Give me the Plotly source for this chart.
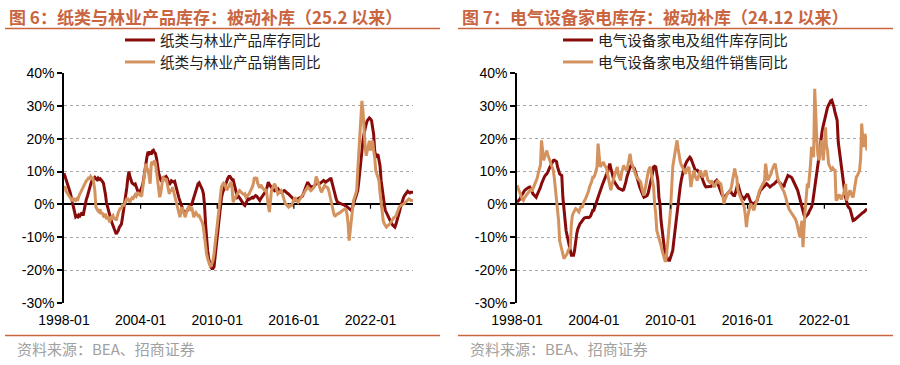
import pandas as pd
import plotly.graph_objects as go

# ---------------- data (monthly YoY %, 1998-01 .. 2025-05) ----------------
paper_inventory = [
    9.5, 8.5, 7.5, 6.5, 5.5, 4.8, 3.5, 2.0, 0.5, -1.5, -3.0, -3.8,
    -3.5, -3.8, -3.2, -3.5, -3.0, -2.5, -3.4, -1.5, 0.0, 1.5, 2.5, 4.0,
    5.0, 6.0, 7.0, 7.5, 8.0, 8.2, 7.8, 7.5, 8.0, 7.6, 7.8, 7.5,
    7.0, 6.5, 5.0, 3.0, 0.5, -1.0, -2.5, -3.5, -4.5, -5.5, -6.5, -7.5,
    -8.5, -9.0, -8.5, -8.0, -7.0, -6.5, -6.0, -4.0, -2.0, 0.5, 2.5, 5.0,
    8.0, 10.0, 8.5, 7.0, 6.5, 6.3, 6.0, 6.2, 5.0, 4.0, 3.5, 3.5,
    4.5, 5.0, 6.0, 8.0, 10.5, 12.5, 14.5, 16.0, 15.5, 16.0, 15.2, 16.3,
    16.5, 15.8, 15.5, 14.0, 11.5, 9.5, 8.5, 7.5, 7.8, 8.0, 8.3, 8.2,
    8.5, 8.0, 7.0, 6.0, 6.5, 7.2, 7.0, 6.8, 7.0, 5.5, 4.5, 3.0,
    2.0, 1.0, 0.0, -1.3, -1.8, -2.2, -2.5, -2.3, -1.8, -1.0, -0.5, 0.0,
    0.0, 1.0, 2.5, 3.5, 4.5, 5.5, 6.3, 6.6, 6.0, 5.5, 4.5, 3.3,
    0.0, -6.0, -11.0, -14.0, -16.5, -18.0, -19.0, -19.5, -19.5, -19.0, -16.0, -13.0,
    -10.0, -6.5, -3.0, 0.0, 2.0, 3.5, 4.5, 5.5, 6.5, 7.5, 8.0, 8.5,
    8.5, 8.0, 7.5, 7.5, 6.0, 4.2, 3.5, 2.2, 2.5, 2.0, 1.2, 1.0,
    0.5, 0.0, -0.3, 0.5, 1.0, 1.7, 1.5, 1.8, 2.0, 2.2, 2.0, 2.5,
    2.7, 2.5, 2.0, 1.5, 1.2, 1.8, 2.3, 2.7, 3.0, 3.5, 4.2, 5.5,
    6.8, 6.0, 5.5, 5.3, 4.8, 4.5, 4.2, 4.5, 4.6, 4.8, 4.3, 4.0,
    3.7, 3.8, 4.0, 4.2, 4.0, 3.5, 3.4, 3.2, 2.8, 2.5, 2.2, 1.8,
    1.5, 1.2, 1.4, 1.5, 1.7, 1.9, 2.0, 2.2, 2.5, 3.3, 4.2, 5.0,
    6.0, 6.8, 6.2, 5.5, 5.3, 5.4, 5.3, 5.5, 6.0, 6.5, 6.8, 6.5,
    6.3, 6.5, 6.8, 7.0, 7.3, 7.0, 6.8, 7.1, 7.2, 7.5, 7.8, 7.8,
    6.5, 5.0, 4.2, 3.0, 1.5, 0.7, 0.5, 0.3, 0.2, 0.1, 0.0, -0.3,
    -0.3, -0.5, -0.8, -1.0, -1.3, -1.8, -1.8, -1.0, 0.0, 1.2, 2.5, 3.5,
    4.2, 7.0, 10.3, 14.0, 17.4, 19.5, 21.5, 23.4, 24.5, 25.5, 26.0, 26.3,
    26.0, 25.5, 23.5, 21.4, 16.4, 14.3, 14.8, 15.3, 13.5, 11.8, 7.3, 4.5,
    2.2, 0.0, -1.8, -2.5, -3.5, -3.8, -4.5, -5.2, -5.9, -6.3, -6.6, -6.9,
    -6.0, -5.0, -3.8, -2.5, -1.2, 0.2, 1.2, 2.0, 2.7, 3.2, 3.7, 4.0,
    3.7, 3.5, 3.7, 3.7, 3.7,
]
paper_sales = [
    4.8, 5.5, 4.0, 3.5, 3.0, 2.7, 2.2, 1.5, 2.0, 1.2, 1.5, 1.2,
    1.7, 1.5, 2.5, 3.2, 3.5, 4.5, 5.3, 6.0, 6.5, 7.2, 7.5, 8.0,
    7.9, 8.5, 8.0, 8.3, 6.5, 4.3, -0.8, -1.5, -2.0, -2.3, -1.5, -3.0,
    -2.5, -3.5, -3.9, -2.8, -4.5, -3.5, -4.5, -5.4, -4.0, -3.5, -3.4, -4.5,
    -4.0, -4.9, -3.5, -2.5, -1.8, -1.0, -1.5, 0.2, -0.5, 0.2, 1.0, 1.7,
    1.7, 1.0, 0.7, 1.5, 2.0, 1.8, 2.7, 3.0, 2.5, 3.0, 3.7, 3.0,
    2.7, 2.5, 5.0, 7.3, 10.0, 12.4, 11.0, 10.4, 8.5, 6.3, 12.4, 13.0,
    12.0, 13.4, 12.5, 10.0, 7.0, 5.3, 2.2, 3.5, 6.0, 8.3, 8.0, 7.5,
    7.9, 6.5, 5.0, 3.2, 4.5, 4.0, 5.3, 4.0, 3.0, 1.2, 0.0, -1.5,
    -2.5, -3.9, -2.0, -0.8, -2.0, -3.0, -3.9, -2.5, -1.5, -0.8, -0.5, -2.0,
    -0.8, -2.5, -3.9, -3.0, -2.5, -3.0, -3.5, -3.4, -4.0, -5.0, -5.5, -6.9,
    -9.9, -13.0, -15.0, -16.5, -18.0, -18.5, -19.0, -18.0, -17.0, -15.0, -12.0, -9.0,
    -6.0, -3.0, -0.8, 2.5, 5.3, 6.0, 6.5, 6.3, 5.0, 4.3, 5.0, 5.5,
    6.0, 6.8, 5.0, 0.7, 1.5, 2.2, 2.7, 3.2, 3.8, 4.2, 3.8, 3.5,
    3.2, 3.0, 3.2, 2.2, 2.5, 2.8, 3.2, 4.0, 4.5, 5.3, 6.5, 8.3,
    7.5, 8.3, 6.5, 5.8, 5.0, 6.0, 5.3, 4.8, 4.5, 4.2, 4.7, 1.0,
    -0.5, -2.3, 1.0, 4.2, 5.0, 5.5, 6.3, 5.5, 4.5, 3.2, 3.5, 4.0,
    4.2, 3.5, 2.5, 1.0, 0.2, 0.0, -0.5, -0.8, -0.3, -0.5, -0.3, 0.5,
    1.5, 2.2, 1.5, 1.0, 0.7, 1.2, 1.7, 2.2, 2.5, 3.2, 3.5, 4.2,
    4.8, 5.3, 5.0, 4.5, 4.2, 4.5, 5.0, 5.3, 6.5, 8.5, 7.5, 6.3,
    5.0, 4.5, 3.7, 4.5, 5.3, 5.8, 5.5, 5.3, 5.0, 4.0, 2.5, 0.2,
    -1.2, -2.5, -3.3, -3.5, -3.0, -2.8, -2.8, -2.5, -2.3, -2.0, -1.7, -1.5,
    -1.3, -1.5, -3.0, -5.8, -11.0, -8.0, -5.8, -2.0, 1.0, 2.2, 3.5, 4.2,
    10.3, 15.0, 19.4, 26.0, 31.5, 28.5, 21.4, 17.5, 14.8, 16.4, 17.5, 19.4,
    16.4, 18.0, 19.4, 16.5, 14.3, 10.3, 9.3, 8.3, 7.3, 3.5, 0.2, -3.0,
    -5.0, -5.9, -6.5, -6.9, -6.6, -6.4, -6.0, -5.5, -4.9, -4.5, -4.0, -3.8,
    -3.5, -2.5, -1.5, -0.8, -0.5, -0.3, -0.3, 0.0, 0.3, 0.7, 1.0, 1.3,
    1.7, 1.5, 1.2, 1.2, 1.2,
]
elec_inventory = [
    0.7, 1.0, 1.5, 1.7, 2.5, 3.2, 3.8, 4.2, 4.5, 4.8, 5.0, 5.2,
    5.3, 4.8, 4.0, 3.2, 2.8, 2.5, 2.2, 3.0, 3.6, 4.3, 5.2, 6.3,
    7.3, 8.0, 8.6, 9.0, 9.3, 10.0, 10.9, 11.5, 12.0, 12.8, 13.4, 13.5,
    13.2, 13.0, 11.5, 9.8, 9.3, 9.0, 8.8, 2.2, -2.0, -4.9, -8.0, -9.5,
    -11.0, -12.5, -14.0, -15.5, -15.5, -15.5, -14.0, -11.0, -8.9, -7.5, -6.5, -5.9,
    -5.5, -5.0, -4.4, -4.2, -4.0, -3.9, -3.9, -4.0, -3.9, -3.5, -2.5, -1.8,
    -1.8, -0.5, 0.3, 1.2, 2.2, 3.3, 4.3, 5.0, 6.0, 6.8, 7.5, 8.3,
    9.3, 10.2, 11.3, 12.4, 11.0, 9.5, 7.8, 7.0, 6.5, 5.8, 5.5, 5.0,
    4.8, 4.5, 4.5, 4.3, 4.5, 5.5, 6.8, 8.3, 9.5, 10.5, 11.4, 11.8,
    11.5, 11.0, 11.0, 10.0, 8.5, 7.8, 6.5, 5.3, 4.3, 3.5, 2.8, 2.2,
    2.5, 2.5, 2.7, 3.5, 5.0, 6.3, 8.0, 9.5, 11.4, 11.6, 11.4, 9.0,
    7.3, 2.0, 0.2, -4.9, -8.0, -11.0, -13.0, -15.0, -16.0, -16.5, -17.0, -17.0,
    -16.0, -15.0, -14.0, -11.0, -8.0, -4.9, -2.0, 0.5, 3.2, 5.5, 7.5, 9.3,
    10.5, 11.5, 12.5, 13.0, 13.5, 14.0, 14.4, 14.0, 13.0, 11.9, 11.0, 10.5,
    10.4, 10.4, 10.0, 9.5, 9.3, 8.5, 7.5, 6.3, 5.8, 5.3, 5.3, 5.5,
    5.3, 5.3, 5.5, 6.0, 6.3, 6.8, 7.0, 7.3, 6.5, 5.5, 4.3, 3.3,
    3.0, 2.5, 2.2, 2.5, 2.8, 3.2, 3.5, 4.0, 4.3, 3.5, 3.0, 2.7,
    2.7, 4.0, 5.5, 6.3, 5.0, 3.5, 2.7, 2.3, 2.0, 1.7, 2.2, 2.8,
    3.2, 2.5, 1.5, 0.7, 0.5, 0.3, 0.2, 0.5, 0.8, 1.2, 2.5, 3.5,
    4.3, 4.6, 5.0, 5.3, 5.6, 5.9, 6.3, 6.0, 5.7, 5.3, 5.6, 6.0,
    6.1, 6.3, 6.6, 7.0, 7.3, 7.0, 6.6, 6.3, 6.0, 5.6, 5.3, 6.5,
    7.5, 8.3, 8.8, 8.6, 8.4, 8.3, 7.8, 7.2, 6.3, 5.6, 5.0, 4.3,
    3.0, 1.5, 0.0, -0.8, -2.0, -3.2, -3.9, -3.5, -3.2, -2.8, -2.0, -1.5,
    -0.8, 0.5, 2.5, 4.3, 6.5, 9.0, 11.4, 14.5, 17.5, 20.5, 22.5, 24.0,
    25.6, 27.0, 28.5, 29.5, 30.2, 31.0, 31.5, 31.7, 30.8, 29.6, 28.0, 26.8,
    25.6, 19.0, 16.5, 14.0, 11.4, 8.5, 6.3, 4.0, 2.0, 0.2, -0.5, -1.0,
    -1.3, -2.5, -3.8, -4.9, -4.8, -4.5, -4.2, -3.9, -3.5, -3.2, -2.8, -2.7,
    -2.5, -2.3, -2.0, -1.6, -1.3,
]
elec_sales = [
    5.8, 5.0, 4.5, 3.8, 2.5, 1.5, 1.2, 2.0, 2.5, 2.7, 3.5, 4.0,
    4.3, 4.5, 4.0, 4.8, 5.5, 6.5, 7.3, 8.0, 9.5, 10.4, 12.0, 19.5,
    15.0, 13.4, 14.5, 15.5, 16.4, 15.0, 14.0, 13.0, 12.5, 11.5, 10.4, 8.0,
    5.0, 1.2, -2.0, -4.9, -11.0, -12.5, -14.5, -16.0, -16.5, -16.0, -15.5, -15.0,
    -14.0, -13.5, -13.0, -5.9, -3.3, -2.5, -2.0, -1.3, -1.5, -2.0, -2.3, -1.5,
    -0.5, -1.0, 0.2, 1.0, 1.5, 2.2, 3.0, 4.0, 5.3, 6.0, 7.0, 8.3,
    8.3, 9.0, 10.0, 11.4, 18.5, 15.0, 11.4, 12.0, 12.5, 12.9, 12.0, 11.5,
    10.9, 9.0, 7.5, 5.5, 4.3, 6.0, 7.5, 8.3, 9.5, 10.5, 11.4, 9.0,
    8.0, 7.3, 9.5, 11.0, 11.9, 11.0, 10.5, 10.4, 12.0, 13.5, 15.4, 13.0,
    12.0, 11.4, 10.0, 9.0, 8.3, 8.0, 7.5, 7.0, 6.8, 5.0, 4.0, 2.7,
    4.5, 6.5, 8.8, 10.0, 11.0, 11.4, 9.0, 7.5, 5.3, 0.0, -2.8, -7.9,
    -9.0, -10.0, -11.0, -12.5, -14.0, -15.0, -16.0, -17.5, -16.0, -13.0, -9.0, -5.0,
    -0.8, 6.0, 11.4, 13.5, 15.5, 17.5, 19.5, 17.0, 14.4, 13.0, 12.0, 11.4,
    10.5, 10.0, 9.3, 10.5, 11.0, 11.4, 9.0, 5.3, 7.5, 9.3, 10.4, 8.5,
    8.0, 7.3, 8.5, 9.5, 10.4, 9.0, 8.3, 8.8, 9.5, 10.4, 8.5, 7.3,
    7.0, 6.5, 7.3, 6.5, 6.0, 5.3, 6.0, 6.8, 7.3, 6.8, 6.5, 6.3,
    4.5, 2.5, 0.2, 1.5, 2.5, 3.2, 3.5, 4.0, 4.3, 5.5, 7.5, 9.5,
    10.9, 9.0, 8.3, 4.3, 3.5, 3.0, 2.2, 1.0, 0.0, -0.8, -3.5, -6.9,
    -3.9, -2.0, -1.0, 0.2, -0.5, -1.2, -1.8, -0.5, 0.5, 1.2, 2.5, 4.0,
    4.8, 5.3, 6.0, 6.5, 7.3, 12.4, 9.0, 7.3, 8.0, 8.5, 9.3, 10.5,
    11.5, 12.0, 12.4, 10.0, 8.5, 7.3, 6.5, 6.0, 5.3, 4.5, 4.0, 3.2,
    2.0, 0.5, -0.8, -1.5, -2.0, -2.8, -3.0, -3.5, -3.9, -4.5, -5.5, -6.9,
    -8.0, -9.9, -7.0, -5.0, -13.0, -5.9, -2.0, 2.0, 6.3, 5.0, 8.0, 12.0,
    17.5, 15.5, 14.4, 35.2, 25.0, 19.5, 15.0, 13.4, 16.0, 19.5, 17.0, 13.4,
    18.0, 23.5, 18.0, 16.4, 12.4, 11.5, 11.0, 10.4, 11.0, 10.5, 10.4, 1.2,
    1.5, 2.5, 3.0, 2.2, 1.5, 2.5, 3.2, 4.5, 6.3, 1.2, 2.5, 3.5,
    4.3, 3.5, 2.5, 2.2, 4.0, 6.0, 8.3, 8.8, 9.5, 10.4, 14.0, 24.6,
    20.0, 17.5, 21.5, 20.0, 16.4,
]

x_tick_labels = ["1998-01", "2004-01", "2010-01", "2016-01", "2022-01"]
y_tick_values = [-30, -20, -10, 0, 10, 20, 30, 40]

titles = ["图 6：纸类与林业产品库存：被动补库（25.2 以来）",
          "图 7：电气设备家电库存：被动补库（24.12 以来）"]
names_left = ["纸类与林业产品库存同比", "纸类与林业产品销售同比"]
names_right = ["电气设备家电及组件库存同比", "电气设备家电及组件销售同比"]
source_text = "资料来源：BEA、招商证券"

# ---------------- styling ----------------
W, H = 900, 365
C_INV = "#870B0B"
C_SAL = "#D4935E"
C_TITLE = "#C9653F"
CJK = "Noto Sans CJK SC"
LAT = "Liberation Sans, Arial"


def px_x(p):
    return p / W


def px_y(p):
    return 1 - p / H


def dates_for(vals):
    return pd.date_range("1998-01-01", periods=len(vals), freq="MS")


fig = go.Figure()

series = [
    (paper_inventory, names_left[0], C_INV, "x", "y", "legend"),
    (paper_sales, names_left[1], C_SAL, "x", "y", "legend"),
    (elec_inventory, names_right[0], C_INV, "x2", "y2", "legend2"),
    (elec_sales, names_right[1], C_SAL, "x2", "y2", "legend2"),
]
for vals, name, col, xa, ya, lg in series:
    fig.add_trace(go.Scatter(
        x=dates_for(vals), y=vals, name=name, mode="lines",
        line=dict(color=col, width=3), xaxis=xa, yaxis=ya, legend=lg,
        hoverinfo="skip",
    ))

d_left = dates_for(paper_inventory)
d_right = dates_for(elec_inventory)
tick_dates = [pd.Timestamp(t + "-01") for t in x_tick_labels]

x_common = dict(
    type="date", showgrid=False, showline=False, zeroline=False, ticks="",
    tickvals=tick_dates, ticktext=x_tick_labels, automargin=False,
    tickfont=dict(family=LAT, size=14, color="#000"),
    ticklabelstandoff=7,
)
y_common = dict(
    range=[-30, 40], tickvals=y_tick_values, automargin=False,
    ticktext=[f"{v}%" for v in y_tick_values],
    tickfont=dict(family=LAT, size=14, color="#000"),
    showline=True, linecolor="#000", linewidth=1.5,
    ticks="outside", ticklen=5, tickcolor="#000", tickwidth=1.5,
    showgrid=True, gridcolor="#A8A8A8", griddash="dot", gridwidth=1,
    zeroline=True, zerolinecolor="#000", zerolinewidth=1.5,
    domain=[px_y(303), px_y(73)],
)

fig.update_layout(
    template="none",
    width=W, height=H, margin=dict(l=0, r=0, t=0, b=0, pad=0, autoexpand=False),
    paper_bgcolor="white", plot_bgcolor="white",
    showlegend=True,
    xaxis=dict(domain=[px_x(64), px_x(413)], range=[d_left[0], d_left[-1]], anchor="y", **x_common),
    yaxis=dict(anchor="x", **y_common),
    xaxis2=dict(domain=[px_x(517), px_x(867)], range=[d_right[0], d_right[-1]], anchor="y2", **x_common),
    yaxis2=dict(anchor="x2", **y_common),
    legend=dict(x=px_x(120), y=px_y(24), xanchor="left", yanchor="top",
                bgcolor="rgba(0,0,0,0)", font=dict(family=CJK, size=14.6, color="#222"),
                tracegroupgap=0, itemclick=False),
    legend2=dict(x=px_x(558), y=px_y(24), xanchor="left", yanchor="top",
                 bgcolor="rgba(0,0,0,0)", font=dict(family=CJK, size=14.6, color="#222"),
                 tracegroupgap=0, itemclick=False),
)

# small tick marks on the zero line
shapes = []
for xa, ya in (("x", "y"), ("x2", "y2")):
    for td in tick_dates[1:]:
        shapes.append(dict(type="line", xref=xa, yref=ya, x0=td, x1=td, y0=0, y1=-1.3,
                           line=dict(color="#000", width=1.2)))

# title underline and footer rule
for x0, x1 in ((5, 440), (458, 893)):
    shapes.append(dict(type="line", xref="paper", yref="paper", x0=px_x(x0), x1=px_x(x1),
                       y0=px_y(28.5), y1=px_y(28.5), line=dict(color=C_TITLE, width=1.5)))
    shapes.append(dict(type="line", xref="paper", yref="paper", x0=px_x(x0), x1=px_x(x1),
                       y0=px_y(335.5), y1=px_y(335.5), line=dict(color=C_TITLE, width=1.5)))
fig.update_layout(shapes=shapes)

annotations = []
for xs, t in ((7, titles[0]), (460, titles[1])):
    annotations.append(dict(text=f"<b>{t}</b>", xref="paper", yref="paper", x=px_x(xs), y=px_y(16),
                            xanchor="left", yanchor="middle", showarrow=False,
                            font=dict(family=CJK, size=17, color=C_TITLE)))
for xs in (15, 468):
    annotations.append(dict(text=source_text, xref="paper", yref="paper", x=px_x(xs), y=px_y(348),
                            xanchor="left", yanchor="middle", showarrow=False,
                            font=dict(family=CJK, size=15, color="#A0A0A0")))
fig.update_layout(annotations=annotations)

fig.write_html(
    "out.html",
    config={"displayModeBar": False},
    post_script="document.body.style.margin='0';document.body.style.overflow='hidden';",
)
